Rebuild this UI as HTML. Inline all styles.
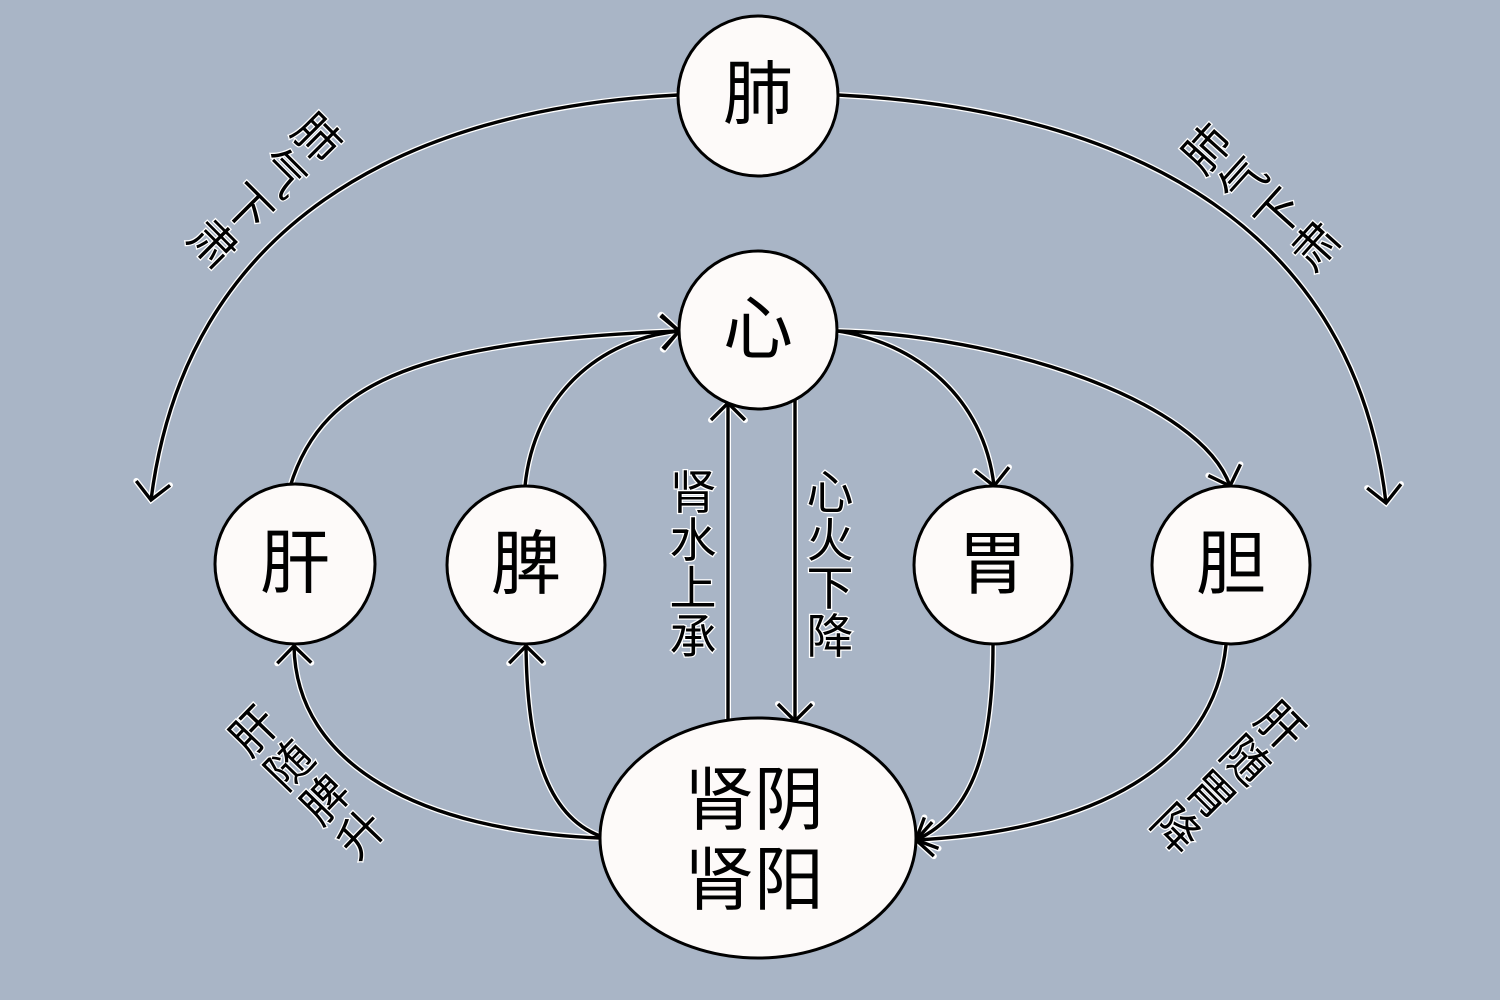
<!DOCTYPE html>
<html>
<head>
<meta charset="utf-8">
<style>
html,body{margin:0;padding:0;background:#a9b5c6;}
svg{display:block;}
text{font-family:"Liberation Sans","Noto Sans CJK SC",sans-serif;}
</style>
</head>
<body>
<svg width="1500" height="1000" viewBox="0 0 1500 1000" xmlns="http://www.w3.org/2000/svg">
<rect width="1500" height="1000" fill="#a9b5c6"/>
<defs>
<marker id="mw" markerUnits="userSpaceOnUse" viewBox="-30 -30 40 60" refX="0" refY="0" markerWidth="40" markerHeight="60" orient="auto" overflow="visible">
<path d="M-17,-17 L0,0 L-17,17" fill="none" stroke="#fff" stroke-width="6" stroke-linecap="round"/>
</marker>
<marker id="mb" markerUnits="userSpaceOnUse" viewBox="-30 -30 40 60" refX="0" refY="0" markerWidth="40" markerHeight="60" orient="auto" overflow="visible">
<path d="M-17,-17 L0,0 L-17,17" fill="none" stroke="#000" stroke-width="3.4"/>
</marker>
</defs>

<g fill="none" stroke="#fff" stroke-width="6" marker-end="url(#mw)">
<path d="M678,95 C403,109 186,225 151,500"/>
<path d="M838,95 C1138,110 1355,233 1386,503"/>
<path d="M290,487 C323,377 429,341 679,331"/>
<path d="M525,486 C534,396 599,339 679,331"/>
<path d="M837,331 C915,342 984,397 994,486"/>
<path d="M837,331 C1000,335 1200,400 1230,486"/>
<path d="M600,838 C421,831 296,765 294,646"/>
<path d="M600,836 C545,815 527,745 526,646"/>
<path d="M993,645 C993,745 975,813 916,840"/>
<path d="M1226,645 C1214,765 1095,831 916,840"/>
<path d="M728,720 L728,403"/>
<path d="M795,400 L795,721"/>
</g>
<g fill="none" stroke="#000" stroke-width="3.4" marker-end="url(#mb)">
<path d="M678,95 C403,109 186,225 151,500"/>
<path d="M838,95 C1138,110 1355,233 1386,503"/>
<path d="M290,487 C323,377 429,341 679,331"/>
<path d="M525,486 C534,396 599,339 679,331"/>
<path d="M837,331 C915,342 984,397 994,486"/>
<path d="M837,331 C1000,335 1200,400 1230,486"/>
<path d="M600,838 C421,831 296,765 294,646"/>
<path d="M600,836 C545,815 527,745 526,646"/>
<path d="M993,645 C993,745 975,813 916,840"/>
<path d="M1226,645 C1214,765 1095,831 916,840"/>
<path d="M728,720 L728,403"/>
<path d="M795,400 L795,721"/>
</g>

<g fill="#fdfaf9" stroke="#000" stroke-width="3">
<circle cx="758" cy="96" r="80"/>
<circle cx="758" cy="330" r="79"/>
<circle cx="295" cy="564" r="80"/>
<circle cx="526" cy="565" r="79"/>
<circle cx="993" cy="565" r="79"/>
<circle cx="1231" cy="565" r="79"/>
<ellipse cx="758" cy="838" rx="158" ry="120"/>
</g>

<g font-size="70" fill="#000" text-anchor="middle">
<text x="758" y="118">肺</text>
<text x="758" y="353">心</text>
<text x="295" y="587">肝</text>
<text x="526" y="588">脾</text>
<text x="993" y="588">胃</text>
<text x="1231" y="588">胆</text>
<text x="754" y="824">肾阴</text>
<text x="754" y="904">肾阳</text>
</g>

<g font-size="47" fill="#000" stroke="#fff" stroke-width="2.5" paint-order="stroke" text-anchor="middle">
<text x="693" y="509">肾</text>
<text x="693" y="557">水</text>
<text x="693" y="605">上</text>
<text x="693" y="653">承</text>
<text x="830" y="509">心</text>
<text x="830" y="557">火</text>
<text x="830" y="605">下</text>
<text x="830" y="653">降</text>
</g>

<g font-size="46" fill="#000" stroke="#fff" stroke-width="2.5" paint-order="stroke" text-anchor="middle">
<text transform="translate(318,137) rotate(45)" y="17.5">肺</text>
<text transform="translate(283.3,172.3) rotate(45)" y="17.5">气</text>
<text transform="translate(248.7,207.7) rotate(45)" y="17.5">下</text>
<text transform="translate(214,243) rotate(45)" y="17.5">肃</text>

<text transform="translate(1206,148) rotate(-48)" y="17.5">肺</text>
<text transform="translate(1242.3,180.3) rotate(-48)" y="17.5">气</text>
<text transform="translate(1278.7,212.7) rotate(-48)" y="17.5">下</text>
<text transform="translate(1315,245) rotate(-48)" y="17.5">肃</text>

<text transform="translate(253,730) rotate(-46)" y="17.5">肝</text>
<text transform="translate(288.7,764.3) rotate(-46)" y="17.5">随</text>
<text transform="translate(324.3,798.7) rotate(-46)" y="17.5">脾</text>
<text transform="translate(360,833) rotate(-46)" y="17.5">升</text>

<text transform="translate(1281,725) rotate(45)" y="17.5">肝</text>
<text transform="translate(1246.3,759.3) rotate(45)" y="17.5">随</text>
<text transform="translate(1211.7,793.7) rotate(45)" y="17.5">胃</text>
<text transform="translate(1177,828) rotate(45)" y="17.5">降</text>
</g>
</svg>
</body>
</html>
